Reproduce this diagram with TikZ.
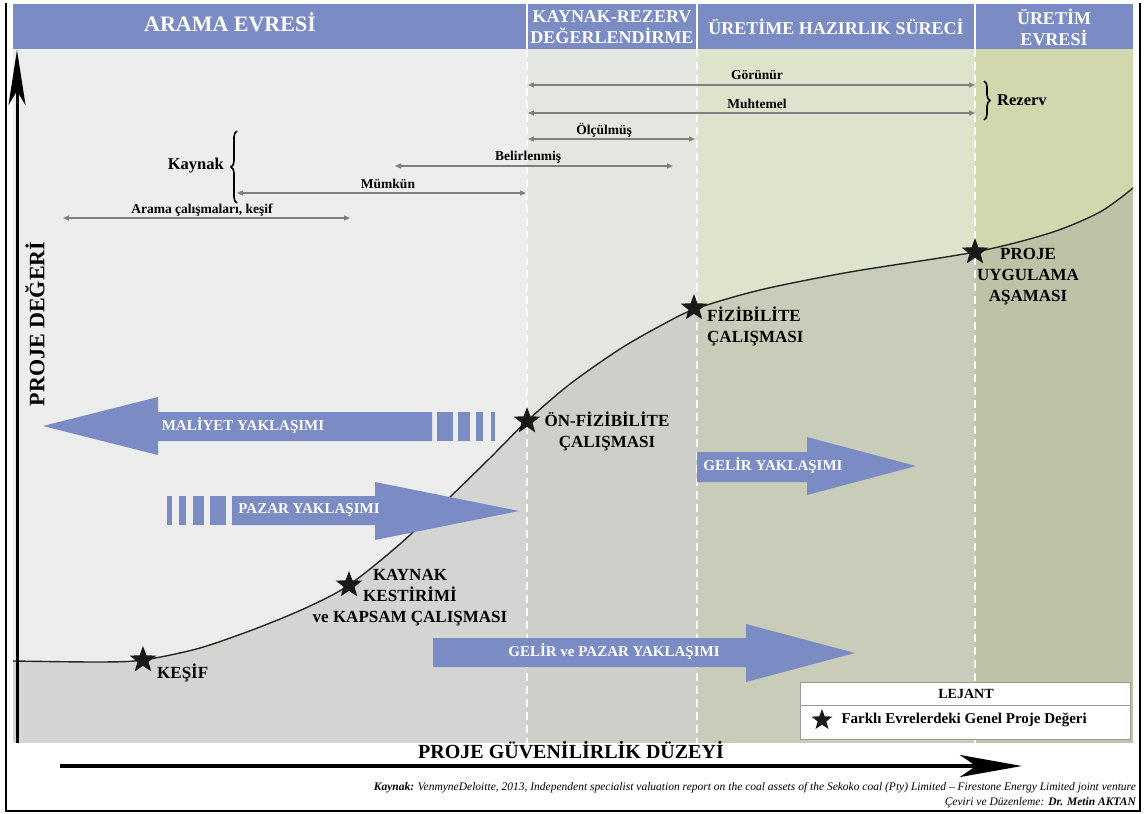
\documentclass[tikz,border=0pt]{standalone}
\usepackage{fontspec}
\setmainfont{Liberation Serif}
\usetikzlibrary{shapes.geometric,arrows.meta,decorations.pathreplacing}
\definecolor{hdr}{HTML}{7B8CC4}
\definecolor{blu}{HTML}{7B8CC4}
\definecolor{bgA}{HTML}{ECEDEC}
\definecolor{bgB}{HTML}{E4E7DF}
\definecolor{bgC}{HTML}{DEE3CB}
\definecolor{bgD}{HTML}{D3D7AE}
\definecolor{lwA}{HTML}{D4D5D3}
\definecolor{lwB}{HTML}{CDCFC8}
\definecolor{lwC}{HTML}{C8CCB8}
\definecolor{lwD}{HTML}{BFC2A6}
\definecolor{rng}{HTML}{7F7F7F}
\def\curvepts{(13,661) (100,662) (143,660) (200,648) (260,627) (310,606) (349,585) (400,544) (450,497) (490,458) (527,421) (570,384) (620,349) (660,326) (695,309) (760,290) (850,272) (975,252) (1050,233) (1100,212) (1133,188)}
\begin{document}
\begin{tikzpicture}[x=1pt,y=-1pt,
  hdrtext/.style={text=white, font=\bfseries\fontsize{18}{20}\selectfont, align=center, inner sep=0pt},
  rngarrow/.style={draw=rng, line width=1.3pt, {Triangle[length=6pt,width=5pt]}-{Triangle[length=6pt,width=5pt]}},
  rnglabel/.style={font=\bfseries\fontsize{13.5}{15}\selectfont, inner sep=0pt},
  bracelabel/.style={font=\bfseries\fontsize{16.5}{18}\selectfont, inner sep=0pt},
  starmark/.style={star, star points=5, star point ratio=2.4, fill=black!90, inner sep=0pt, minimum size=28pt},
  starlabel/.style={font=\bfseries\fontsize{17}{21}\selectfont, align=center, inner sep=0pt},
  blulabel/.style={text=white, font=\bfseries\fontsize{15}{16}\selectfont, inner sep=0pt},
  bluarrow/.style={fill=blu, draw=none},
  divider/.style={draw=white, line width=1.6pt, dash pattern=on 8pt off 5pt},
  axislabel/.style={font=\bfseries\fontsize{20}{22}\selectfont, inner sep=0pt},
  brace/.style={draw=black, line width=1.6pt, decorate, decoration={brace, amplitude=6pt}}
]
\useasboundingbox (0,0) rectangle (1144,814);
\fill[white] (0,0) rectangle (1144,814);
% panel backgrounds
\fill[bgA] (13,49) rectangle (527,743);
\fill[bgB] (527,49) rectangle (697,743);
\fill[bgC] (697,49) rectangle (975,743);
\fill[bgD] (975,49) rectangle (1133,743);
\begin{scope}
\clip (13,743) -- plot[smooth, tension=0.5] coordinates {\curvepts} -- (1133,743) -- cycle;
\fill[lwA] (13,49) rectangle (527,743);
\fill[lwB] (527,49) rectangle (697,743);
\fill[lwC] (697,49) rectangle (975,743);
\fill[lwD] (975,49) rectangle (1133,743);
\end{scope}
% header
\fill[hdr] (13,4) rectangle (1133,49);
\draw[white, line width=1.6pt] (527,4) -- (527,49) (697,4) -- (697,49) (975,4) -- (975,49);
\node[hdrtext, font=\bfseries\fontsize{22}{24}\selectfont] (h1) at (230,22) {ARAMA EVRESİ};
\node[hdrtext] (h2) at (612,27) {KAYNAK-REZERV\\[1pt]DEĞERLENDİRME};
\node[hdrtext] (h3) at (836,27) {ÜRETİME HAZIRLIK SÜRECİ};
\node[hdrtext] (h4) at (1054,27) {ÜRETİM\\[1pt]EVRESİ};
% dividers
\draw[divider] (527,49) -- (527,743);
\draw[divider] (697,49) -- (697,743);
\draw[divider] (975,49) -- (975,743);
% curve
\draw[black!85, line width=1.4pt] plot[smooth, tension=0.5] coordinates {\curvepts};
% range arrows
\coordinate (g1) at (528,85); \coordinate (g2) at (975,85);
\coordinate (m1) at (528,113); \coordinate (m2) at (975,113);
\coordinate (o1) at (528,139); \coordinate (o2) at (695,139);
\coordinate (b1) at (395,166); \coordinate (b2) at (673,166);
\coordinate (k1) at (237,193); \coordinate (k2) at (526,193);
\coordinate (a1) at (63,218); \coordinate (a2) at (350,218);
\draw[rngarrow] (g1) -- (g2);
\draw[rngarrow] (m1) -- (m2);
\draw[rngarrow] (o1) -- (o2);
\draw[rngarrow] (b1) -- (b2);
\draw[rngarrow] (k1) -- (k2);
\draw[rngarrow] (a1) -- (a2);
\node[rnglabel] (lg) at (757,75) {Görünür};
\node[rnglabel] (lm) at (757,104) {Muhtemel};
\node[rnglabel] (lo) at (604,130) {Ölçülmüş};
\node[rnglabel] (lb) at (528,157) {Belirlenmiş};
\node[rnglabel] (lk) at (388,184) {Mümkün};
\node[rnglabel] (la) at (202,210) {Arama çalışmaları, keşif};
% braces
\draw[brace] (984,81) -- (984,120);
\node[bracelabel, anchor=west] (rez) at (997,100) {Rezerv};
\draw[brace] (237,203) -- (237,131);
\node[bracelabel, anchor=east] (kay) at (224,166) {Kaynak};
% blue arrows
\fill[bluarrow] (43,426) -- (158,397) -- (158,412) -- (432,412) -- (432,441) -- (158,441) -- (158,455) -- cycle;
\fill[bluarrow] (437,412) rectangle (453,441);
\fill[bluarrow] (458,412) rectangle (470,441);
\fill[bluarrow] (476,412) rectangle (483,441);
\fill[bluarrow] (491,412) rectangle (495,441);
\node[blulabel] (mal) at (243,426) {MALİYET YAKLAŞIMI};
\fill[bluarrow] (167,496) rectangle (172,525);
\fill[bluarrow] (179,496) rectangle (186,525);
\fill[bluarrow] (193,496) rectangle (204,525);
\fill[bluarrow] (210,496) rectangle (226,525);
\fill[bluarrow] (232,496) -- (375,496) -- (375,482) -- (519,511) -- (375,540) -- (375,525) -- (232,525) -- cycle;
\node[blulabel] (paz) at (309,510) {PAZAR YAKLAŞIMI};
\fill[bluarrow] (697,452) -- (807,452) -- (807,437) -- (916,466) -- (807,495) -- (807,482) -- (697,482) -- cycle;
\node[blulabel] (gel) at (773,466) {GELİR YAKLAŞIMI};
\fill[bluarrow] (433,638) -- (746,638) -- (746,624) -- (855,653) -- (746,682) -- (746,667) -- (433,667) -- cycle;
\node[blulabel] (gp) at (614,652) {GELİR ve PAZAR YAKLAŞIMI};
% stars and labels
\node[starmark] (s1) at (143,660) {};
\node[starmark] (s2) at (349,585) {};
\node[starmark] (s3) at (527,421) {};
\node[starmark] (s4) at (694,308) {};
\node[starmark] (s5) at (975,252) {};
\node[starlabel, anchor=west] (t1) at (157,673) {KEŞİF};
\node[starlabel] (t2) at (410,598) {KAYNAK\\KESTİRİMİ\\ve KAPSAM ÇALIŞMASI};
\node[starlabel] (t3) at (607,431) {ÖN-FİZİBİLİTE\\ÇALIŞMASI};
\node[starlabel, align=left, anchor=west] (t4) at (707,326) {FİZİBİLİTE\\ÇALIŞMASI};
\node[starlabel] (t5) at (1028,277) {PROJE\\UYGULAMA\\AŞAMASI};
% axes
\coordinate (yb) at (17,743); \coordinate (yt) at (17,50);
\draw[line width=3pt, -{Stealth[length=55pt, width=17pt, inset=14pt]}] (yb) -- (yt);
\node[axislabel, rotate=90, font=\bfseries\fontsize{22}{24}\selectfont] (yl) at (35,324) {PROJE DEĞERİ};
\coordinate (xl) at (60,766); \coordinate (xr) at (1022,766);
\draw[line width=4pt, -{Stealth[length=62pt, width=22pt, inset=16pt]}] (xl) -- (xr);
\node[axislabel] (xlab) at (571,750) {PROJE GÜVENİLİRLİK DÜZEYİ};
% legend
\draw[draw=black!40, fill=white, line width=1pt] (800,682) rectangle (1130,739);
\draw[black!40, line width=1pt] (800,705) -- (1130,705);
\node[font=\bfseries\fontsize{14}{15}\selectfont] (lej) at (966,694) {LEJANT};
\node[starmark, minimum size=22pt] (ls) at (822,720) {};
\node[font=\bfseries\fontsize{15}{16}\selectfont, anchor=west] (lt) at (838,720) {Farklı Evrelerdeki Genel Proje Değeri};
% source
\node[anchor=east, inner sep=0pt, font=\itshape\fontsize{11.5}{13}\selectfont] (src1) at (1136,788) {\textbf{Kaynak:} VenmyneDeloitte, 2013, Independent specialist valuation report on the coal assets of the Sekoko coal (Pty) Limited – Firestone Energy Limited joint venture};
\node[anchor=east, inner sep=0pt, font=\itshape\fontsize{11.5}{13}\selectfont] (src2) at (1136,803) {Çeviri ve Düzenleme: \textbf{Dr. Metin AKTAN}};
% frame
\draw[line width=2pt] (6,3) -- (6,811) -- (1140,811) -- (1140,3);
\end{tikzpicture}
\end{document}
